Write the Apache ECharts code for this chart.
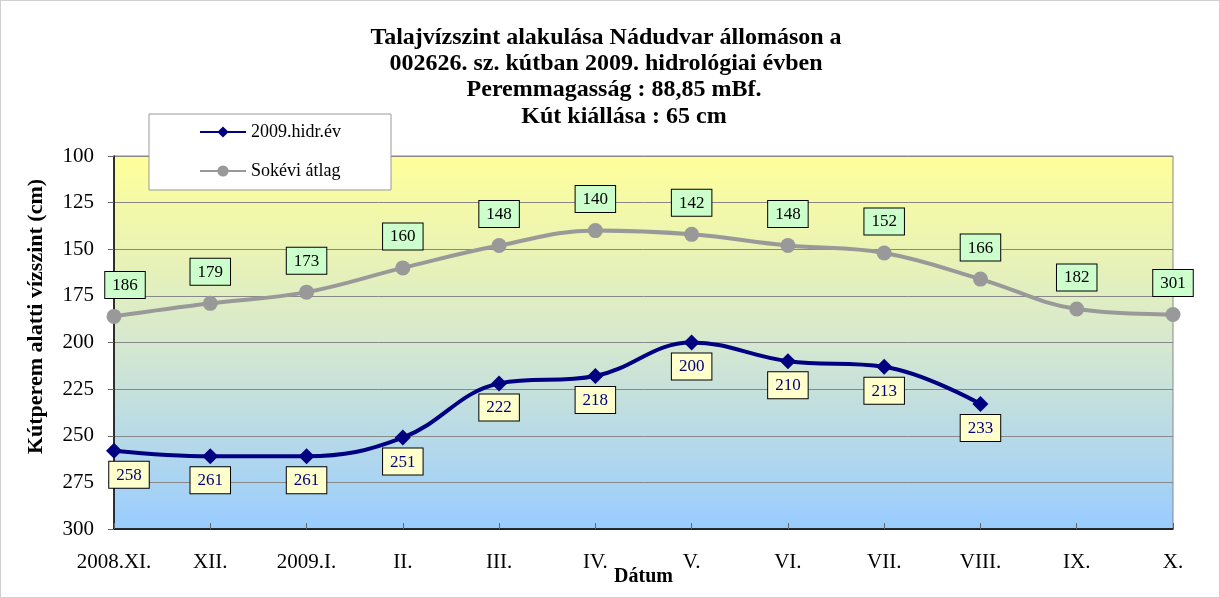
<!DOCTYPE html>
<html>
<head>
<meta charset="utf-8">
<script src="https://cdn.jsdelivr.net/npm/echarts@6/dist/echarts.min.js"></script>
<style>
  html, body { margin: 0; padding: 0; background: #fff; }
  #main { width: 1220px; height: 598px; box-sizing: border-box; border: 1px solid #d0d0d0; }
</style>
</head>
<body>
<div id="main"></div>
<script>
// adatok
var months = ['2008.XI.', 'XII.', '2009.I.', 'II.', 'III.', 'IV.', 'V.', 'VI.', 'VII.', 'VIII.', 'IX.', 'X.'];
var hidr2009 = [258, 261, 261, 251, 222, 218, 200, 210, 213, 233];
var sokevi = [186, 179, 173, 160, 148, 140, 142, 148, 152, 166, 182, 185];
// a felirat az utolsó pontnál eltér az értéktől (így van az eredetin)
var sokeviLabels = ['186', '179', '173', '160', '148', '140', '142', '148', '152', '166', '182', '301'];
var titleLines = [
  'Talajvízszint alakulása Nádudvar állomáson a',
  '002626. sz. kútban 2009. hidrológiai évben',
  'Peremmagasság : 88,85 mBf.',
  'Kút kiállása : 65 cm'
];

var serif = '"Liberation Serif", "DejaVu Serif", serif';
var titleX = [605, 605, 613, 623];
var titleY = [25, 51, 77, 104];

// az első felirat a rajzterület belsejébe csúszik (Excel így tette)
function firstLabelShift(dx) {
  return function (p) {
    return p.dataIndex === 0 ? { dx: dx } : {};
  };
}

var myChart = echarts.init(document.getElementById('main'));

var option = {
  animation: false,
  title: titleLines.map(function (t, i) {
    return {
      text: t,
      left: titleX[i],
      top: titleY[i],
      textAlign: 'center',
      padding: 0,
      textStyle: { fontFamily: serif, fontSize: 24, fontWeight: 'bold', color: '#000' }
    };
  }),
  legend: {
    orient: 'vertical',
    left: 148,
    top: 113,
    padding: [9, 50, 10, 50],
    itemGap: 21,
    itemWidth: 46,
    itemHeight: 14,
    backgroundColor: '#fff',
    borderColor: '#999',
    borderWidth: 1,
    textStyle: { fontFamily: serif, fontSize: 18, color: '#000' },
    data: ['2009.hidr.év', 'Sokévi átlag']
  },
  grid: {
    left: 113,
    right: 46,
    top: 155,
    bottom: 68,
    containLabel: false,
    outerBoundsMode: 'none',
    show: true,
    borderColor: '#888',
    borderWidth: 1,
    backgroundColor: new echarts.graphic.LinearGradient(0, 0, 0, 1, [
      { offset: 0, color: '#ffff99' },
      { offset: 0.5, color: '#d6e8cf' },
      { offset: 1, color: '#99ccff' }
    ])
  },
  xAxis: {
    type: 'category',
    data: months,
    boundaryGap: false,
    name: 'Dátum',
    nameLocation: 'middle',
    nameGap: 38,
    nameMoveOverlap: false,
    nameTextStyle: { fontFamily: serif, fontSize: 20, fontWeight: 'bold', color: '#000' },
    axisLine: { lineStyle: { color: '#000', width: 1.5 } },
    axisTick: { inside: true, length: 6, interval: 0, lineStyle: { color: '#666' } },
    axisLabel: { fontFamily: serif, fontSize: 21, color: '#000', margin: 23, interval: 0 },
    splitLine: { show: false }
  },
  yAxis: {
    type: 'value',
    inverse: true,
    min: 100,
    max: 300,
    interval: 25,
    name: 'Kútperem alatti vízszint (cm)',
    nameLocation: 'middle',
    nameGap: 67,
    nameMoveOverlap: false,
    nameTextStyle: { fontFamily: serif, fontSize: 22, fontWeight: 'bold', color: '#000', padding: [0, 0, 0, 52] },
    axisLine: { show: true, lineStyle: { color: '#000', width: 1.5 } },
    axisTick: { show: true, length: 6, lineStyle: { color: '#666' } },
    axisLabel: { fontFamily: serif, fontSize: 21, color: '#000', margin: 20 },
    splitLine: { lineStyle: { color: '#888', width: 1 } }
  },
  series: [
    {
      name: '2009.hidr.év',
      type: 'line',
      data: hidr2009,
      smooth: 0.4,
      symbol: 'diamond',
      symbolSize: 16,
      color: '#000080',
      lineStyle: { color: '#000080', width: 4 },
      itemStyle: { color: '#000080' },
      label: {
        show: true,
        position: 'bottom',
        distance: 3,
        fontFamily: serif,
        fontSize: 17,
        color: '#000080',
        backgroundColor: '#ffffcc',
        borderColor: '#000',
        borderWidth: 1,
        padding: [5, 7, 4, 7]
      },
      labelLayout: firstLabelShift(15),
      z: 3
    },
    {
      name: 'Sokévi átlag',
      type: 'line',
      data: sokevi,
      smooth: 0.4,
      symbol: 'circle',
      symbolSize: 15,
      color: '#999999',
      lineStyle: { color: '#999999', width: 4 },
      itemStyle: { color: '#999999' },
      label: {
        show: true,
        position: 'top',
        distance: 11,
        fontFamily: serif,
        fontSize: 17,
        color: '#000',
        backgroundColor: '#ccffcc',
        borderColor: '#000',
        borderWidth: 1,
        padding: [5, 7, 4, 7],
        formatter: function (p) { return sokeviLabels[p.dataIndex]; }
      },
      labelLayout: firstLabelShift(11),
      z: 2
    }
  ]
};

myChart.setOption(option);
</script>
</body>
</html>
